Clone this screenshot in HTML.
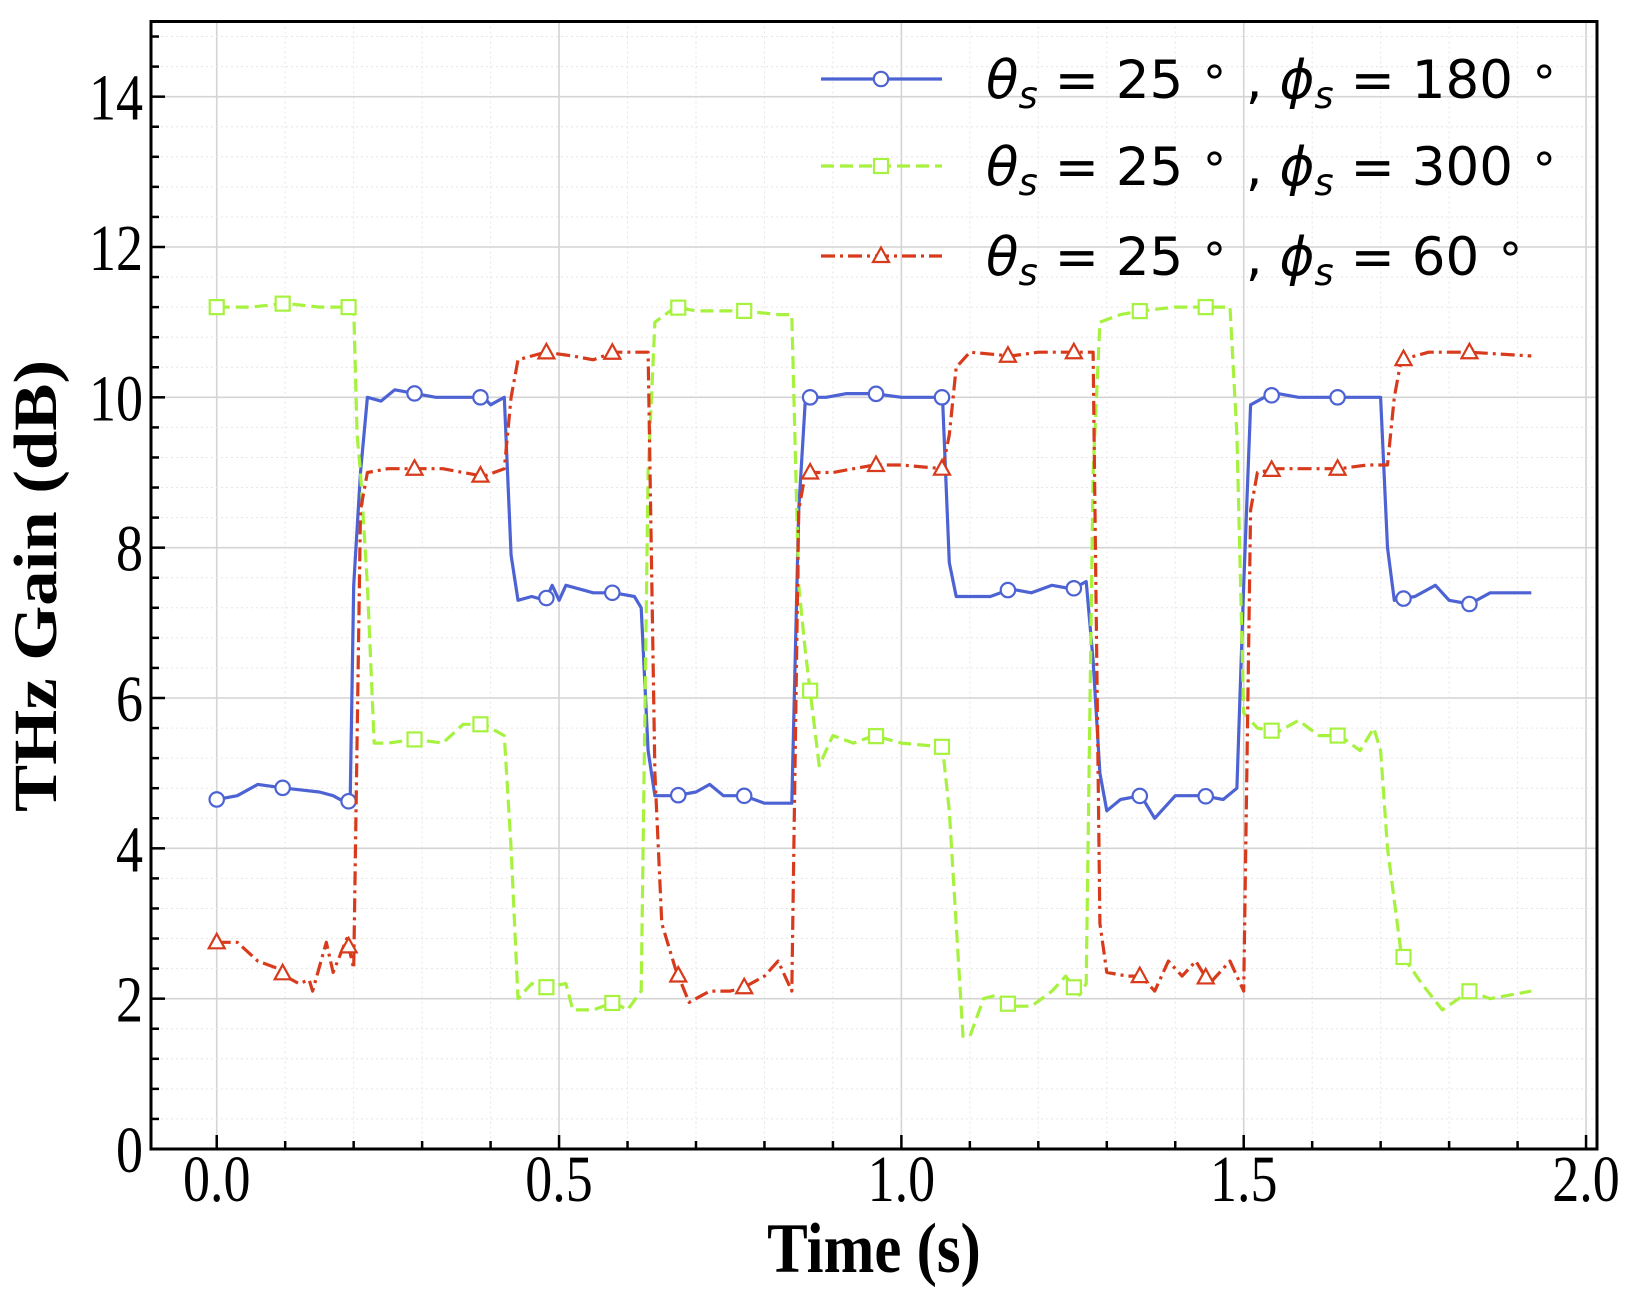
<!DOCTYPE html>
<html><head><meta charset="utf-8"><style>
html,body{margin:0;padding:0;background:#fff}
svg{display:block}
</style></head><body>
<svg id="chart" width="1641" height="1295" xmlns="http://www.w3.org/2000/svg"></svg>
<script>
const blueT=[0,0.03,0.06,0.1,0.15,0.17,0.19,0.195,0.2,0.21,0.22,0.24,0.26,0.29,0.32,0.36,0.39,0.4,0.42,0.43,0.44,0.46,0.48,0.49,0.5,0.51,0.55,0.58,0.61,0.62,0.63,0.64,0.67,0.7,0.72,0.74,0.77,0.8,0.84,0.85,0.86,0.89,0.92,0.96,1.0,1.04,1.06,1.07,1.08,1.1,1.13,1.16,1.19,1.22,1.25,1.27,1.28,1.29,1.3,1.32,1.35,1.37,1.4,1.44,1.47,1.49,1.5,1.51,1.53,1.55,1.58,1.64,1.7,1.71,1.72,1.75,1.78,1.8,1.83,1.86,1.92];
const blueY=[4.65,4.7,4.85,4.8,4.75,4.7,4.6,4.65,7.5,9.0,10.0,9.95,10.1,10.05,10.0,10.0,10.0,9.9,10.0,7.9,7.3,7.35,7.3,7.5,7.3,7.5,7.4,7.4,7.35,7.2,5.3,4.7,4.7,4.75,4.85,4.7,4.7,4.6,4.6,8.5,10.0,10.0,10.05,10.05,10.0,10.0,10.0,7.8,7.35,7.35,7.35,7.45,7.4,7.5,7.45,7.55,6.5,5.0,4.5,4.65,4.7,4.4,4.7,4.7,4.65,4.8,7.5,9.9,10.0,10.05,10.0,10.0,10.0,8.0,7.3,7.35,7.5,7.3,7.25,7.4,7.4];
const greenT=[0,0.05,0.1,0.15,0.2,0.205,0.21,0.22,0.23,0.25,0.29,0.33,0.36,0.39,0.42,0.43,0.44,0.46,0.48,0.51,0.52,0.55,0.58,0.6,0.62,0.63,0.64,0.67,0.7,0.77,0.82,0.84,0.85,0.86,0.88,0.9,0.93,0.96,1.0,1.06,1.07,1.09,1.1,1.12,1.14,1.16,1.19,1.22,1.24,1.26,1.27,1.28,1.29,1.32,1.35,1.4,1.45,1.48,1.49,1.5,1.52,1.55,1.58,1.61,1.64,1.67,1.69,1.7,1.71,1.73,1.76,1.79,1.83,1.86,1.92];
const greenY=[11.2,11.2,11.25,11.2,11.2,9.5,9.0,7.5,5.4,5.4,5.45,5.4,5.65,5.65,5.5,4.0,2.0,2.2,2.15,2.2,1.85,1.85,1.95,1.85,2.1,9.0,11.0,11.2,11.15,11.15,11.1,11.1,7.5,6.6,5.1,5.5,5.4,5.5,5.4,5.35,4.5,1.5,1.5,2.0,2.05,1.9,1.9,2.1,2.3,2.05,2.2,9.0,11.0,11.1,11.15,11.2,11.2,11.2,9.5,5.8,5.6,5.55,5.7,5.5,5.5,5.3,5.6,5.3,4.0,2.6,2.2,1.85,2.1,2.0,2.1];
const redT=[0,0.03,0.06,0.09,0.1,0.12,0.135,0.14,0.16,0.17,0.19,0.2,0.21,0.22,0.25,0.29,0.33,0.36,0.39,0.42,0.43,0.44,0.48,0.52,0.55,0.58,0.63,0.64,0.65,0.67,0.69,0.72,0.75,0.77,0.8,0.82,0.84,0.85,0.86,0.9,0.93,0.96,1.0,1.06,1.07,1.08,1.1,1.16,1.2,1.26,1.28,1.29,1.3,1.33,1.35,1.37,1.39,1.41,1.43,1.45,1.48,1.5,1.51,1.52,1.55,1.6,1.64,1.68,1.71,1.72,1.73,1.77,1.83,1.92];
const redY=[2.75,2.75,2.5,2.4,2.3,2.2,2.25,2.1,2.75,2.35,2.8,2.4,8.5,9.0,9.05,9.05,9.05,9.0,8.95,9.05,10.0,10.5,10.6,10.55,10.5,10.6,10.6,5.0,3.0,2.4,1.95,2.1,2.1,2.15,2.3,2.5,2.1,8.5,9.0,9.0,9.05,9.1,9.1,9.05,9.5,10.4,10.6,10.55,10.6,10.6,10.6,3.0,2.35,2.3,2.3,2.1,2.5,2.3,2.5,2.2,2.5,2.1,8.5,9.0,9.05,9.05,9.05,9.1,9.1,10.0,10.5,10.6,10.6,10.55];
const xTicks=[0,0.5,1.0,1.5,2.0];
const xTickLabels=["0.0","0.5","1.0","1.5","2.0"];
const yTicks=[0,2,4,6,8,10,12,14];
const yTickLabels=["0","2","4","6","8","10","12","14"];

const NS="http://www.w3.org/2000/svg";
const svg=document.getElementById('chart');
const L=151,R=1597,T=21.5,B=1149;
const xMin=-0.096,xMax=2.016,yMin=0,yMax=15;
const X=v=>L+(v-xMin)/(xMax-xMin)*(R-L);
const Y=v=>B-(v-yMin)/(yMax-yMin)*(B-T);
function mk(tag,attrs,parent){const e=document.createElementNS(NS,tag);for(const k in attrs)e.setAttribute(k,attrs[k]);(parent||svg).appendChild(e);return e;}

const grid=mk('g',{});


for(let v=-0.0;v<=2.0001;v+=0.1){const maj=Math.abs(v*2-Math.round(v*2))<1e-6;
 mk('line',{x1:X(v),x2:X(v),y1:T,y2:B,stroke:maj?'#d4d4d4':'#e6e6e6','stroke-width':maj?1.6:1,'stroke-dasharray':maj?'':'2,3'},grid);}
for(let v=0.4;v<15;v+=0.4){const maj=Math.abs(v/2-Math.round(v/2))<1e-6;
 mk('line',{x1:L,x2:R,y1:Y(v),y2:Y(v),stroke:maj?'#d4d4d4':'#e6e6e6','stroke-width':maj?1.6:1,'stroke-dasharray':maj?'':'2,3'},grid);}

function interp(ts,ys,t){for(let i=0;i<ts.length-1;i++){if(t>=ts[i]&&t<=ts[i+1]){const f=(t-ts[i])/(ts[i+1]-ts[i]||1);return ys[i]+f*(ys[i+1]-ys[i]);}}return ys[ys.length-1];}
function series(name,ts,ys,color,dash,marker){
 const g=mk('g',{});
 
 
 const d=ts.map((t,i)=>(i?'L':'M')+X(t).toFixed(1)+','+Y(ys[i]).toFixed(1)).join('');
 const p=mk('path',{d,fill:'none',stroke:color,'stroke-width':3.2,'stroke-dasharray':dash,'stroke-linejoin':'round'},g);
 
 
 for(let t=0;t<=ts[ts.length-1]+1e-6;t+=0.0963){
  const m=drawMarker(g,marker,X(t),Y(interp(ts,ys,t)),color);
  
  
 }
}
function drawMarker(g,type,cx,cy,color){
 if(type==='circle')return mk('circle',{cx,cy,r:7.2,fill:'#fff',stroke:color,'stroke-width':2.2},g);
 if(type==='square')return mk('rect',{x:cx-7,y:cy-7,width:14,height:14,fill:'#fff',stroke:color,'stroke-width':2.2},g);
 return mk('path',{d:`M${cx},${cy-8.5}L${cx+8},${cy+6}L${cx-8},${cy+6}Z`,fill:'#fff',stroke:color,'stroke-width':2.2},g);
}
const BLUE='#4d63d3',GREEN='#a6f23e',RED='#d83a1c';
series('series-phi-180',blueT,blueY,BLUE,'','circle');
series('series-phi-300',greenT,greenY,GREEN,'13,6','square');
series('series-phi-60',redT,redY,RED,'14,5,3,5','triangle');

const frame=mk('rect',{x:L,y:T,width:R-L,height:B-T,fill:'none',stroke:'#000','stroke-width':3});


const tk=mk('g',{stroke:'#000','stroke-width':2.5});


for(let v=0;v<=2.0001;v+=0.1){const maj=Math.abs(v*2-Math.round(v*2))<1e-6;mk('line',{x1:X(v),x2:X(v),y1:B,y2:B-(maj?14:8)},tk);}
for(let v=0.4;v<15;v+=0.4){const maj=Math.abs(v/2-Math.round(v/2))<1e-6;mk('line',{x1:L,x2:L+(maj?14:8),y1:Y(v),y2:Y(v)},tk);}
xTicks.forEach((v,i)=>{const t=mk('text',{x:0,y:0,'font-family':'Liberation Serif, serif','font-size':54,'text-anchor':'middle',transform:`translate(${X(v)},${B+52}) scale(1,1.22)`});t.textContent=xTickLabels[i];
 });
yTicks.forEach((v,i)=>{const t=mk('text',{x:0,y:0,'font-family':'Liberation Serif, serif','font-size':54,'text-anchor':'end',transform:`translate(${L-8},${Y(v)+23}) scale(1,1.22)`});t.textContent=yTickLabels[i];
 });
const xt=mk('text',{x:0,y:0,'font-family':'Liberation Serif, serif','font-size':58,'font-weight':'bold','text-anchor':'middle',transform:`translate(874,1272) scale(1.05,1.22)`});xt.textContent='Time (s)';

const yt=mk('text',{x:0,y:0,'font-family':'Liberation Serif, serif','font-size':58,'font-weight':'bold','text-anchor':'middle',transform:`translate(56,586) rotate(-90) scale(1.22,1.05)`});yt.textContent='THz Gain (dB)';

const leg=[['180',BLUE,'','circle',79],['300',GREEN,'13,6','square',166],['60',RED,'14,5,3,5','triangle',256]];
leg.forEach(([val,c,dash,m,y])=>{
 const g=mk('g',{});
 
 
 mk('line',{x1:821,x2:942,y1:y,y2:y,stroke:c,'stroke-width':3.2,'stroke-dasharray':dash},g);
 drawMarker(g,m,881,y,c);
 const t=mk('text',{x:986,y:y+19,'font-family':'DejaVu Sans, sans-serif','font-size':53},g);
 t.innerHTML=`<tspan font-style="italic">θ</tspan><tspan font-size="37" font-style="italic" dy="10">s</tspan><tspan dy="-10"> = 25 </tspan><tspan font-size="46" dy="-12">∘</tspan><tspan dy="12"> , </tspan><tspan font-style="italic">ϕ</tspan><tspan font-size="37" font-style="italic" dy="10">s</tspan><tspan dy="-10"> = ${val} </tspan><tspan font-size="46" dy="-12">∘</tspan>`;
});
</script>
</body></html>
